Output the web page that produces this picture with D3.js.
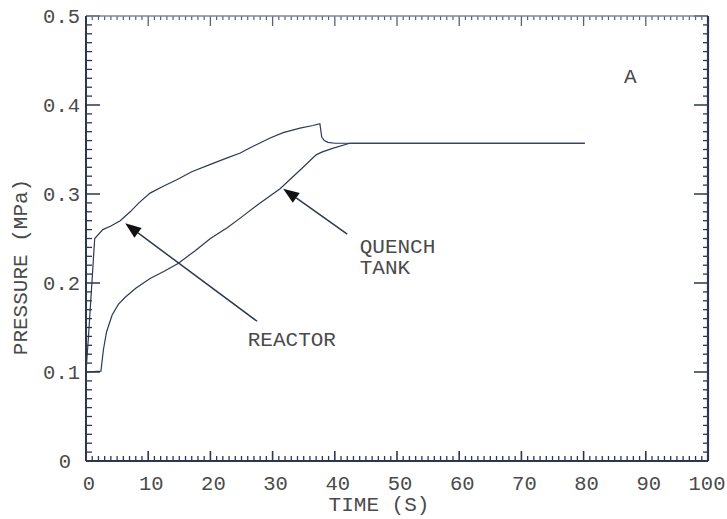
<!DOCTYPE html>
<html>
<head>
<meta charset="utf-8">
<script src="https://cdn.jsdelivr.net/npm/d3@7"></script>
<style>
  body { margin: 0; background: #fff; }
  svg text { font-family: "Liberation Mono", "DejaVu Sans Mono", monospace; fill: #4a4a4a; }
</style>
</head>
<body>
<svg id="chart" width="727" height="519"></svg>
<script>
// pressure traces (time in s, pressure in MPa)
const reactorTime = [0, 0.4, 1.4, 2.7, 4.0, 5.5, 7.1, 8.5, 10.3, 12.5, 14.6, 17, 19.9, 22.5, 24.8, 26.4, 29.6, 31.7, 34.4, 36.5, 37.6, 37.9, 38.3, 38.9, 40, 42.4, 80.2];
const reactorP    = [0.100, 0.140, 0.250, 0.260, 0.264, 0.270, 0.280, 0.290, 0.301, 0.309, 0.316, 0.325, 0.333, 0.340, 0.346, 0.352, 0.363, 0.369, 0.374, 0.377, 0.379, 0.364, 0.360, 0.358, 0.357, 0.357, 0.357];

const quenchTime = [0, 2.4, 2.8, 3.3, 4.2, 5.2, 6.3, 8.0, 10.3, 12.5, 14.8, 17.5, 20, 22.7, 25, 28, 31.2, 34.9, 37.0, 37.9, 39.5, 42.4, 80.2];
const quenchP    = [0.100, 0.101, 0.125, 0.145, 0.164, 0.176, 0.184, 0.194, 0.205, 0.213, 0.222, 0.236, 0.250, 0.262, 0.274, 0.290, 0.306, 0.330, 0.344, 0.347, 0.351, 0.357, 0.357];

const xTicks = [0, 10, 20, 30, 40, 50, 60, 70, 80, 90, 100];
const yTicks = [0, 0.1, 0.2, 0.3, 0.4, 0.5];

const svg = d3.select("#chart");
const x = d3.scaleLinear().domain([0, 100]).range([86, 708]);
const y = d3.scaleLinear().domain([0, 0.5]).range([461, 16]);

const axisColor = "#2b3650";
const lineColor = "#2d3852";

const xMinor = d3.range(0, 101, 1).filter(d => d % 10 !== 0);
const yMinor = d3.range(0, 51, 1).filter(d => d % 10 !== 0).map(d => d / 100);

// curves
const line = d3.line().x(d => x(d[0])).y(d => y(d[1]));
svg.append("path").datum(d3.zip(reactorTime, reactorP)).attr("d", line)
  .attr("fill", "none").attr("stroke", lineColor).attr("stroke-width", 1.2);
svg.append("path").datum(d3.zip(quenchTime, quenchP)).attr("d", line)
  .attr("fill", "none").attr("stroke", lineColor).attr("stroke-width", 1.2);

// annotations (positions in data units)
function arrow(tail, tip) {
  const ax = x(tail[0]), ay = y(tail[1]), tx = x(tip[0]), ty = y(tip[1]);
  const a = Math.atan2(ty - ay, tx - ax), len = 16, half = 6;
  const bx = tx - len * Math.cos(a), by = ty - len * Math.sin(a);
  svg.append("line").attr("x1", ax).attr("y1", ay).attr("x2", bx).attr("y2", by)
    .attr("stroke", lineColor).attr("stroke-width", 1.5);
  svg.append("path")
    .attr("d", `M${tx},${ty}L${bx + half * Math.sin(a)},${by - half * Math.cos(a)}L${bx - half * Math.sin(a)},${by + half * Math.cos(a)}Z`)
    .attr("fill", "#111");
}
arrow([27.5, 0.157], [6.3, 0.267]);
arrow([42.0, 0.255], [31.7, 0.306]);

const labels = [
  {text: "REACTOR", t: 26.0, p: 0.129, anchor: "start"},
  {text: "QUENCH", t: 44.0, p: 0.234, anchor: "start"},
  {text: "TANK", t: 44.0, p: 0.210, anchor: "start"},
  {text: "A", t: 87.5, p: 0.425, anchor: "middle"}
];
svg.selectAll(".note").data(labels).join("text").attr("class", "note")
  .attr("x", d => x(d.t)).attr("y", d => y(d.p))
  .attr("text-anchor", d => d.anchor)
  .style("font-size", "21px").text(d => d.text);

// tick labels
svg.append("g").selectAll("text").data(xTicks).join("text")
  .attr("x", d => x(d) + (d === 100 ? -1 : 3)).attr("y", 490)
  .attr("text-anchor", "middle").style("font-size", "20.5px")
  .text(d3.format("d"));
svg.append("g").selectAll("text").data(yTicks).join("text")
  .attr("x", d => d === 0 ? 71 : 80).attr("y", d => y(d)).attr("dy", "0.35em")
  .attr("text-anchor", "end").style("font-size", "20.5px")
  .text(d => d === 0 ? "0" : d3.format(".1f")(d));

// axis titles
svg.append("text").attr("x", 379).attr("y", 511).attr("text-anchor", "middle")
  .style("font-size", "21px").text("TIME (S)");
svg.append("text").attr("transform", "translate(27,267) rotate(-90)")
  .attr("text-anchor", "middle").style("font-size", "21px").text("PRESSURE (MPa)");

// inward ticks, all four sides
svg.append("g").selectAll("line").data(xMinor).join("line")
  .attr("x1", d => x(d)).attr("x2", d => x(d)).attr("y1", y(0)).attr("y2", y(0) - 5)
  .attr("stroke", axisColor).attr("stroke-width", 1.3);
svg.append("g").selectAll("line").data(xTicks).join("line")
  .attr("x1", d => x(d)).attr("x2", d => x(d)).attr("y1", y(0)).attr("y2", y(0) - 10)
  .attr("stroke", axisColor).attr("stroke-width", 1.6);
svg.append("g").selectAll("line").data(xMinor).join("line")
  .attr("x1", d => x(d)).attr("x2", d => x(d)).attr("y1", y(0.5)).attr("y2", y(0.5) + 4)
  .attr("stroke", "#55607a").attr("stroke-width", 1.2);
svg.append("g").selectAll("line").data(xTicks).join("line")
  .attr("x1", d => x(d)).attr("x2", d => x(d)).attr("y1", y(0.5)).attr("y2", y(0.5) + 10)
  .attr("stroke", "#55607a").attr("stroke-width", 1.3);
svg.append("g").selectAll("line").data(yMinor).join("line")
  .attr("x1", x(0)).attr("x2", x(0) + 6).attr("y1", d => y(d)).attr("y2", d => y(d))
  .attr("stroke", axisColor).attr("stroke-width", 1.3);
svg.append("g").selectAll("line").data(yTicks).join("line")
  .attr("x1", x(0)).attr("x2", x(0) + 14).attr("y1", d => y(d)).attr("y2", d => y(d))
  .attr("stroke", axisColor).attr("stroke-width", 1.5);
svg.append("g").selectAll("line").data(yMinor).join("line")
  .attr("x1", x(100)).attr("x2", x(100) - 5).attr("y1", d => y(d)).attr("y2", d => y(d))
  .attr("stroke", axisColor).attr("stroke-width", 1.3);
svg.append("g").selectAll("line").data(yTicks).join("line")
  .attr("x1", x(100)).attr("x2", x(100) - 14).attr("y1", d => y(d)).attr("y2", d => y(d))
  .attr("stroke", axisColor).attr("stroke-width", 1.5);

// frame
svg.append("line").attr("x1", x(0)).attr("x2", x(100)).attr("y1", y(0.5)).attr("y2", y(0.5))
  .attr("stroke", "#7d8699").attr("stroke-width", 1.5);
svg.append("line").attr("x1", x(0)).attr("x2", x(100)).attr("y1", y(0)).attr("y2", y(0))
  .attr("stroke", axisColor).attr("stroke-width", 2);
svg.append("line").attr("x1", x(0)).attr("x2", x(0)).attr("y1", y(0)).attr("y2", y(0.5))
  .attr("stroke", axisColor).attr("stroke-width", 2);
svg.append("line").attr("x1", x(100)).attr("x2", x(100)).attr("y1", y(0)).attr("y2", y(0.5))
  .attr("stroke", axisColor).attr("stroke-width", 2.2);
</script>
</body>
</html>
